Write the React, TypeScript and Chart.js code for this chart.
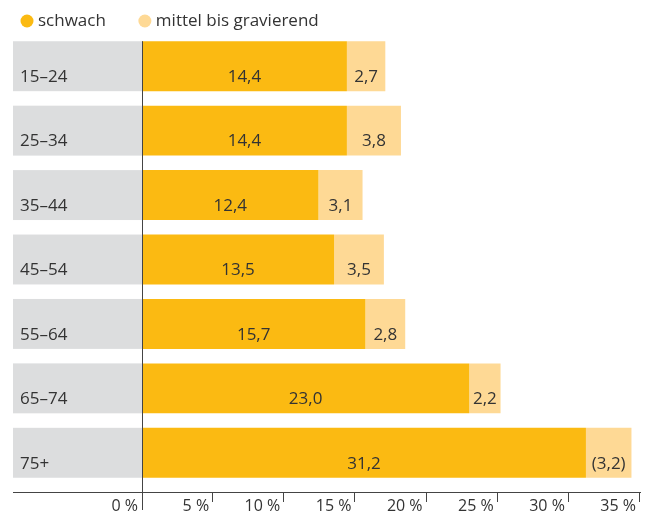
import { useEffect, useRef } from 'react';
import { Chart, registerables } from 'chart.js';

Chart.register(...registerables);

const altersgruppen = ['15–24', '25–34', '35–44', '45–54', '55–64', '65–74', '75+'];
const schwach = [14.4, 14.4, 12.4, 13.5, 15.7, 23.0, 31.2];
const mittelBisGravierend = [2.7, 3.8, 3.1, 3.5, 2.8, 2.2, 3.2];
const inKlammern = [false, false, false, false, false, false, true];
const xTicks = [0, 5, 10, 15, 20, 25, 30, 35];
const serienNamen = ['schwach', 'mittel bis gravierend'];

const FONT = '"Open Sans", sans-serif';
const FS = 17;
const TEXT = '#333333';
const GELB = '#FBBA12';
const HELL = '#FED995';
const GRAU = '#DCDDDE';

const fmt = (v: number) => v.toFixed(1).replace('.', ',');

const decor = {
  id: 'decor',
  beforeDraw(chart: any) {
    const { ctx, scales } = chart;
    const x = scales.x;
    const y = scales.y;
    const meta = chart.getDatasetMeta(0);
    const left = y.left - 7;
    const x0 = x.getPixelForValue(0);
    ctx.save();
    ctx.fillStyle = GRAU;
    meta.data.forEach((bar: any) => {
      const p = bar.getProps(['y', 'height'], true);
      ctx.fillRect(left, p.y - p.height / 2, x0 - left, p.height);
    });
    ctx.restore();
  },
  afterDraw(chart: any) {
    const { ctx, chartArea, scales } = chart;
    const x = scales.x;
    const y = scales.y;
    const x0 = x.getPixelForValue(0);
    const axisY = Math.round(chartArea.bottom + 7);
    const left = y.left - 7;
    const first = chart.getDatasetMeta(0).data[0].getProps(['y', 'height'], true);

    ctx.save();
    // value labels
    ctx.font = `${FS}px ${FONT}`;
    ctx.fillStyle = TEXT;
    ctx.textAlign = 'center';
    ctx.textBaseline = 'middle';
    chart.data.datasets.forEach((ds: any, di: number) => {
      const meta = chart.getDatasetMeta(di);
      meta.data.forEach((bar: any, i: number) => {
        const p = bar.getProps(['x', 'y', 'base'], true);
        const v = ds.data[i];
        let s = fmt(v);
        if (di === 1 && inKlammern[i]) s = `(${s})`;
        ctx.fillText(s, (p.x + p.base) / 2, p.y + 11);
      });
    });

    // axes
    ctx.strokeStyle = '#444444';
    ctx.lineWidth = 1;
    ctx.beginPath();
    ctx.moveTo(Math.round(x0) + 0.5, first.y - first.height / 2);
    ctx.lineTo(Math.round(x0) + 0.5, axisY + 18);
    ctx.moveTo(left, axisY + 0.5);
    ctx.lineTo(chartArea.right + 1, axisY + 0.5);
    x.ticks.forEach((t: any) => {
      if (t.value === 0) return;
      const px = Math.round(x.getPixelForValue(t.value)) - 0.5;
      ctx.moveTo(px, axisY);
      ctx.lineTo(px, axisY + 10);
    });
    ctx.stroke();

    // legend
    const ly = 21;
    let lx = left + 8;
    ctx.textAlign = 'left';
    chart.data.datasets.forEach((ds: any) => {
      ctx.fillStyle = ds.backgroundColor;
      ctx.beginPath();
      ctx.arc(lx + 6, ly, 6.5, 0, Math.PI * 2);
      ctx.fill();
      ctx.fillStyle = TEXT;
      ctx.fillText(ds.label, lx + 17, ly);
      lx += 17 + ctx.measureText(ds.label).width + 33;
    });
    ctx.restore();
  },
};

export default function App() {
  const ref = useRef<HTMLCanvasElement>(null);
  useEffect(() => {
    document.body.style.margin = '0';
    const chart = new Chart(ref.current as HTMLCanvasElement, {
      type: 'bar',
      data: {
        labels: altersgruppen,
        datasets: [
          { label: serienNamen[0], data: schwach, backgroundColor: GELB, borderWidth: 0, barPercentage: 0.775, categoryPercentage: 1 },
          { label: serienNamen[1], data: mittelBisGravierend, backgroundColor: HELL, borderWidth: 0, barPercentage: 0.775, categoryPercentage: 1 },
        ],
      },
      options: {
        indexAxis: 'y',
        responsive: false,
        animation: false,
        layout: { padding: { top: 34, right: 12, bottom: 0, left: 20 } },
        plugins: { legend: { display: false }, tooltip: { enabled: false } },
        scales: {
          x: {
            type: 'linear',
            stacked: true,
            min: 0,
            max: 35,
            afterBuildTicks: (s: any) => {
              s.ticks = xTicks.map((v) => ({ value: v }));
            },
            afterFit: (s: any) => {
              s.height = 30;
            },
            grid: { display: false, drawTicks: false },
            border: { display: false },
            ticks: {
              align: 'end',
              labelOffset: -4,
              padding: 12,
              autoSkip: false,
              maxRotation: 0,
              color: TEXT,
              font: { family: FONT, size: 16 },
              callback: (v: any) => `${v} %`,
            },
          },
          y: {
            type: 'category',
            stacked: true,
            grid: { display: false },
            border: { display: false },
            afterFit: (s: any) => {
              s.width = 122;
            },
            ticks: {
              crossAlign: 'far',
              labelOffset: 11,
              padding: 0,
              color: TEXT,
              font: { family: FONT, size: FS },
            },
          },
        },
      },
      plugins: [decor],
    } as any);
    return () => chart.destroy();
  }, []);
  return (
    <div style={{ width: 652, height: 515 }}>
      <canvas ref={ref} width={652} height={515} style={{ display: 'block' }} />
    </div>
  );
}
